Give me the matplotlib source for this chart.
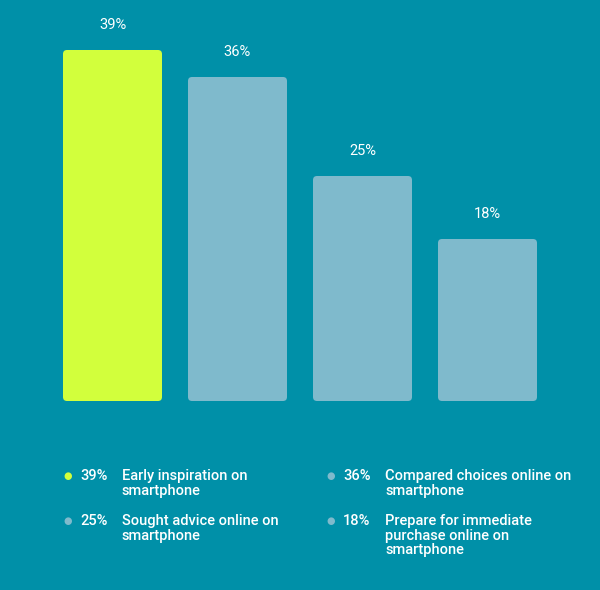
import matplotlib
matplotlib.use("Agg")
import matplotlib.pyplot as plt
from matplotlib.patches import FancyBboxPatch

categories = ["Early inspiration on\nsmartphone", "Compared choices online on\nsmartphone",
              "Sought advice online on\nsmartphone", "Prepare for immediate\npurchase online on\nsmartphone"]
values = [39, 36, 25, 18]
bar_colors = ["#d2ff3c", "#7fbacc", "#7fbacc", "#7fbacc"]
bg = "#0090a8"

fig = plt.figure(figsize=(6, 5.9), dpi=100, facecolor=bg)
ax = fig.add_axes([50/600, 1-401/590, 500/600, 401/590])
ax.set_facecolor(bg)
ax.set_xlim(-0.5, 3.5)
ax.set_ylim(0, 401/9)
ax.axis("off")

w = 99/125
bars = ax.bar(range(len(values)), values, width=w, color=bar_colors)
for b, c in zip(bars, bar_colors):
    x, y = b.get_x(), b.get_y()
    bw, bh = b.get_width(), b.get_height()
    b.set_visible(False)
    ax.add_patch(FancyBboxPatch((x, y), bw, bh,
                                boxstyle="round,pad=0,rounding_size=0.032",
                                mutation_aspect=13.9, fc=c, ec="none"))
    ax.text(x + bw/2, bh + 2.0, f"{int(bh)}%", ha="center", va="bottom",
            color="white", fontsize=10.5, family="Roboto")

pos = [(68, 476), (331, 476), (68, 521), (331, 521)]
for (px, py), v, lab, c in zip(pos, values, categories, bar_colors):
    fig.text(px/600, 1-py/590, "●", color=c, fontsize=7, ha="center", va="center")
    fig.text((px+12)/600, 1-py/590 + 7/590, f"{v}%", color="white", fontsize=10.5,
             family="Roboto", weight="medium", va="top")
    fig.text((px+54)/600, 1-py/590 + 7/590, lab, color="white", fontsize=10.5,
             family="Roboto", weight="medium", va="top", linespacing=1.05)

fig.savefig("out.png", dpi=100, facecolor=bg)
